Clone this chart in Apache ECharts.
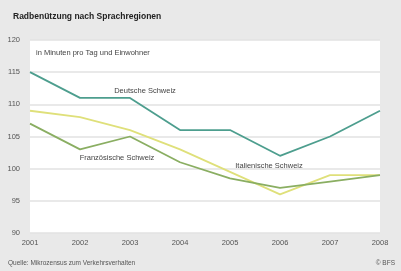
<!DOCTYPE html>
<html>
<head>
<meta charset="utf-8">
<script src="https://cdn.jsdelivr.net/npm/echarts@6/dist/echarts.min.js"></script>
<style>
  html, body { margin: 0; padding: 0; background: #e9e9e9; }
  #chart { width: 401px; height: 271px; }
</style>
</head>
<body>
<div id="chart"></div>
<script>
// Jahre
const years = ["2001", "2002", "2003", "2004", "2005", "2006", "2007", "2008"];
// Werte je Sprachregion (Minuten pro Tag und Einwohner, indexiert)
const deutsch = [115, 111, 111, 106, 106, 102, 105, 109];
const franz = [107, 103, 105, 101, 98.5, 97, 98, 99];
const ital = [109, 108, 106, 103, 99.5, 96, 99, 99];
const yTicks = [90, 95, 100, 105, 110, 115, 120];

const font = "Liberation Sans, Arial, sans-serif";

// Beschriftung an einem Punkt der Linie (unsichtbarer markPoint)
function nameLabel(values, idx, text, offset) {
  return {
    symbol: "circle",
    symbolSize: 0,
    silent: true,
    data: [{ coord: [years[idx], values[idx]] }],
    label: {
      show: true,
      formatter: text,
      position: "inside",
      offset: offset,
      color: "#444",
      fontSize: 7.5,
      fontFamily: font
    }
  };
}

const chart = echarts.init(document.getElementById("chart"), null, { renderer: "canvas" });

chart.setOption({
  backgroundColor: "#e9e9e9",
  animation: false,
  title: {
    text: "Radbenützung nach Sprachregionen",
    left: 8,
    top: 7,
    textStyle: { fontSize: 8.5, fontWeight: "bold", color: "#222", fontFamily: font }
  },
  graphic: [
    {
      type: "text",
      left: 36,
      top: 49,
      style: { text: "in Minuten pro Tag und Einwohner", fontSize: 7.5, fill: "#444", fontFamily: font }
    },
    {
      type: "text",
      left: 8,
      top: 260,
      style: { text: "Quelle: Mikrozensus zum Verkehrsverhalten", fontSize: 6.5, fill: "#555", fontFamily: font }
    },
    {
      type: "text",
      right: 6,
      top: 260,
      style: { text: "© BFS", fontSize: 6.5, fill: "#555", fontFamily: font }
    }
  ],
  grid: {
    left: 30,
    right: 21,
    top: 40,
    bottom: 38,
    show: true,
    backgroundColor: "#ffffff",
    borderWidth: 0
  },
  xAxis: {
    type: "category",
    data: years,
    boundaryGap: false,
    axisLine: { show: false },
    axisTick: { show: false },
    axisLabel: { color: "#555", fontSize: 7.5, fontFamily: font, margin: 6 }
  },
  yAxis: {
    type: "value",
    min: yTicks[0],
    max: yTicks[yTicks.length - 1],
    interval: 5,
    axisLine: { show: false },
    axisTick: { show: false },
    axisLabel: { color: "#555", fontSize: 7.5, fontFamily: font, margin: 10 },
    splitLine: { lineStyle: { color: "#e2e2e2", width: 1.5 } }
  },
  series: [
    {
      name: "Italienische Schweiz",
      type: "line",
      data: ital,
      symbol: "none",
      lineStyle: { color: "#dfe07a", width: 1.8 },
      markPoint: nameLabel(ital, 5, "Italienische Schweiz", [-11, -28])
    },
    {
      name: "Französische Schweiz",
      type: "line",
      data: franz,
      symbol: "none",
      lineStyle: { color: "#8aae62", width: 1.8 },
      markPoint: nameLabel(franz, 2, "Französische Schweiz", [-13, 21])
    },
    {
      name: "Deutsche Schweiz",
      type: "line",
      data: deutsch,
      symbol: "none",
      lineStyle: { color: "#4d9e8e", width: 1.8 },
      markPoint: nameLabel(deutsch, 2, "Deutsche Schweiz", [15, -7])
    }
  ]
});
</script>
</body>
</html>
